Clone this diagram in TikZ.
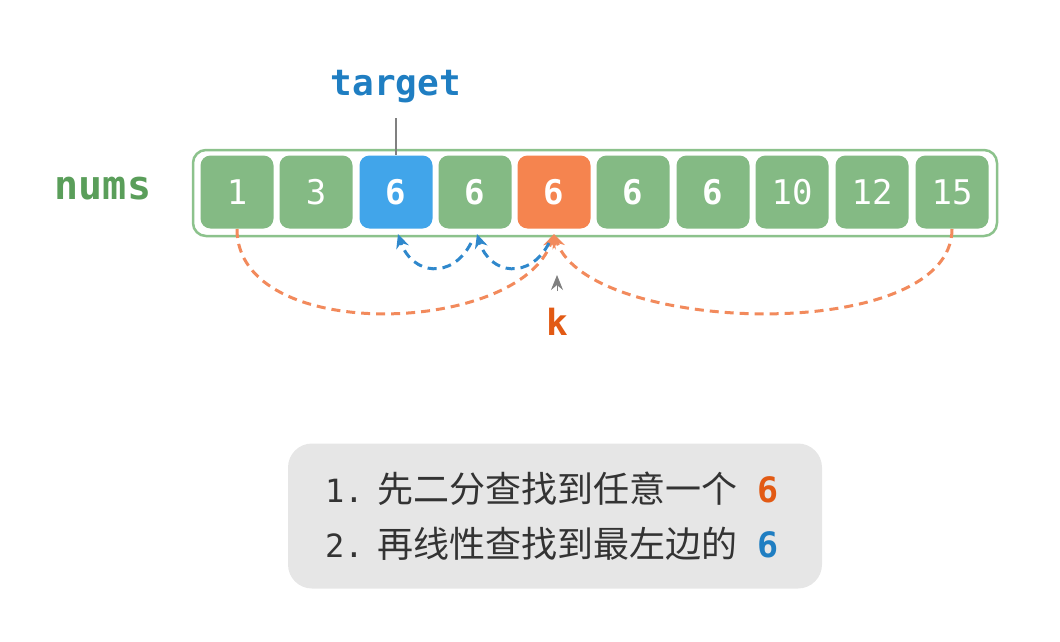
\documentclass[tikz,border=0pt]{standalone}
\usepackage{fontspec}
\setmonofont{DejaVu Sans Mono}
\newfontfamily\cjk{Noto Sans CJK SC}
\usetikzlibrary{arrows.meta}
\definecolor{cg}{HTML}{84BA84}
\definecolor{og}{HTML}{8CC28C}
\definecolor{ng}{HTML}{5A9E5A}
\definecolor{cb}{HTML}{41A5EA}
\definecolor{tb}{HTML}{1F7EC2}
\definecolor{co}{HTML}{F5844F}
\definecolor{ko}{HTML}{E25A14}
\definecolor{db}{HTML}{2F88CC}
\definecolor{do}{HTML}{F28A5C}
\definecolor{gb}{HTML}{E6E6E6}
\definecolor{tx}{HTML}{333333}
\tikzset{
  cell/.style={rounded corners=10pt, minimum width=73pt, minimum height=73pt, inner sep=0pt,
    text=white, font=\ttfamily\fontsize{34}{34}\selectfont},
  bcell/.style={cell, font=\ttfamily\bfseries\fontsize{34}{34}\selectfont},
  bdash/.style={db, line width=3pt, dash pattern=on 9pt off 6pt, -{Stealth[length=14pt,width=13pt]}},
  odash/.style={do, line width=3pt, dash pattern=on 9pt off 6pt, -{Stealth[length=14pt,width=13pt]}},
}
\begin{document}
\begin{tikzpicture}[x=1pt,y=-1pt]
\useasboundingbox (0,0) rectangle (1060,642);
% outer array box
\node[draw=og, line width=2.5pt, fill=white, rounded corners=13pt, minimum width=804pt, minimum height=86pt, inner sep=0pt] (arr) at (595,193) {};
\node[cell, fill=cg] (c1) at (237,192) {1};
\node[cell, fill=cg] (c2) at (316,192) {3};
\node[bcell, fill=cb] (c3) at (396,192) {6};
\node[bcell, fill=cg] (c4) at (475,192) {6};
\node[bcell, fill=co] (c5) at (554,192) {6};
\node[bcell, fill=cg] (c6) at (633,192) {6};
\node[bcell, fill=cg] (c7) at (713,192) {6};
\node[cell, fill=cg] (c8) at (792,192) {10};
\node[cell, fill=cg] (c9) at (872,192) {12};
\node[cell, fill=cg] (c10) at (952,192) {15};
% labels
\node[text=ng, font=\ttfamily\bfseries\fontsize{40}{40}\selectfont] (nums) at (103,189) {nums};
\node[text=tb, font=\ttfamily\bfseries\fontsize{36}{36}\selectfont] (target) at (396,87) {target};
\coordinate (tl) at (396,118);
\draw[gray, line width=1.3pt] (tl) -- (c3.north);
\node[text=ko, font=\ttfamily\bfseries\fontsize{36}{36}\selectfont] (k) at (557,322) {k};
\coordinate (ka) at (557,291);
\coordinate (kb) at (557,275);
\draw[gray, line width=1pt, -{Stealth[length=15pt,width=12pt,inset=5pt]}] (ka) -- (kb);
% connector points
\coordinate (b1) at (237,229);
\coordinate (b3) at (398,234);
\coordinate (b4) at (477,234);
\coordinate (b5) at (554,234);
\coordinate (b5s) at (549,243);
\coordinate (b4s) at (471,243);
\coordinate (b10) at (952,229);
% orange curves
\draw[odash] (b1) .. controls (237,345) and (520,335) .. (b5);
\draw[odash] (b10) .. controls (952,345) and (590,335) .. (b5);
% blue arcs
\draw[bdash] (b5s) .. controls (530,280) and (490,275) .. (b4);
\draw[bdash] (b4s) .. controls (452,280) and (412,275) .. (b3);
% note box
\node[fill=gb, rounded corners=24pt, minimum width=534pt, minimum height=145pt, inner sep=0pt] (note) at (555,516) {};
\node[anchor=west, text=tx, inner sep=0pt] (l1) at (325,489)
  {\ttfamily\fontsize{32}{32}\selectfont 1.\hspace{14pt}{\cjk\fontsize{36}{36}\selectfont 先二分查找到任意一个}\hspace{20pt}{\ttfamily\bfseries\fontsize{35}{35}\selectfont\color{ko}6}};
\node[anchor=west, text=tx, inner sep=0pt] (l2) at (325,544)
  {\ttfamily\fontsize{32}{32}\selectfont 2.\hspace{14pt}{\cjk\fontsize{36}{36}\selectfont 再线性查找到最左边的}\hspace{20pt}{\ttfamily\bfseries\fontsize{35}{35}\selectfont\color{tb}6}};
\end{tikzpicture}
\end{document}
